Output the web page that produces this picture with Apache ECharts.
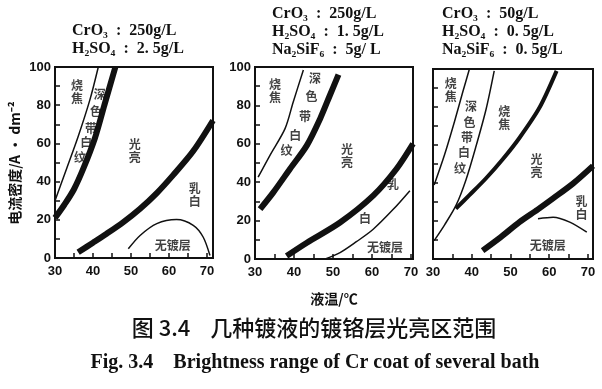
<!DOCTYPE html>
<html><head><meta charset="utf-8">
<script src="https://cdn.jsdelivr.net/npm/echarts@6/dist/echarts.min.js"></script>
<style>html,body{margin:0;padding:0;background:#fff}#c{width:602px;height:389px}</style>
</head><body><div id="c"></div>
<script>
// ---- tick labels ----
const xTicks = [30, 40, 50, 60, 70];
const yTicks = [0, 20, 40, 60, 80, 100];

// ---- panel headers ----
const p1Header = ['CrO₃  :  250g/L', 'H₂SO₄  :  2. 5g/L'];
const p2Header = ['CrO₃  :  250g/L', 'H₂SO₄  :  1. 5g/L', 'Na₂SiF₆  :  5g/ L'];
const p3Header = ['CrO₃  :  50g/L', 'H₂SO₄  :  0. 5g/L', 'Na₂SiF₆  :  0. 5g/L'];

// ---- panel 1 curves [T(°C), J(A/dm²)] ----
const p1BurnEdge = [[30, 30], [33.1, 47], [36.1, 63.6], [39.2, 82.9], [41.4, 100]];
const p1Band = [[30, 21], [32.5, 28], [35, 36], [37.5, 47], [40.5, 62.7], [43, 80], [45.9, 100]];
const p1Bright = [[36.1, 3], [40, 8], [43.6, 12.7], [48, 18.8], [52.4, 25.8], [56.8, 34], [61.1, 43.4], [66.4, 56], [71.6, 72]];
const p1Dome = [[49.3, 4.8], [52.4, 11.8], [56.8, 18], [62, 20.1], [66.4, 17.1], [69, 11], [70.8, 1.3]];

// ---- panel 2 curves ----
const p2BurnEdge = [[30.8, 42.6], [33.8, 53.9], [37.7, 67.9], [39.8, 81.8], [42.4, 98.4]];
const p2Band = [[31.3, 26], [34.7, 34.7], [39, 47], [43.3, 59.2], [46.7, 73.1], [49.2, 85.3], [51.4, 96]];
const p2Bright = [[38.1, 1.6], [43.3, 8.5], [51.8, 19], [60.3, 33], [66.3, 47], [70.5, 60]];
const p2Lower = [[48, 0], [51.8, 3.3], [56, 9], [60.3, 15.5], [65.5, 26], [69.7, 35.6]];

// ---- panel 3 curves ----
const p3Edge1 = [[30.3, 39], [33, 55], [35.5, 72], [37.7, 88], [39.4, 100]];
const p3Edge2 = [[30.3, 9.7], [33, 18], [36, 28.5], [38.5, 41.6], [41.1, 59.3], [43.7, 78.8], [45.8, 99]];
const p3Burn = [[35.9, 26.5], [39.4, 33.6], [43.7, 42.5], [48, 52.5], [52.3, 63.7], [57.5, 79.7], [61.9, 99]];
const p3Bright = [[42.8, 4.4], [47.5, 11.5], [52.3, 19.4], [57, 26], [61, 31.9], [66.2, 39.8], [71.3, 49]];
const p3Dome = [[57.1, 21.2], [61, 22], [65.3, 19.4], [69.7, 14.1]];

// ---- region labels [text, T, J] ----
const p1Labels = [['烧\n焦', 35.8, 87], ['光\n亮', 51, 56], ['乳\n白', 66.8, 33], ['无镀层', 61, 6.5],
  ['深', 41.8, 85.5], ['色', 40.8, 76.6], ['带', 39.5, 68], ['白', 38.2, 60.3], ['纹', 36.6, 52.4]];
const p2Labels = [['烧\n焦', 35.1, 87.3], ['光\n亮', 53.6, 53.5], ['乳', 65.4, 39], ['白', 58.2, 21], ['无镀层', 63.3, 5.8],
  ['深', 45.4, 94.2], ['色', 44.5, 84.5], ['带', 42.8, 74], ['白', 40.3, 64.4], ['纹', 38.1, 56.5]];
const p3Labels = [['烧\n焦', 34.6, 88.8], ['烧\n焦', 48.4, 74.5], ['光\n亮', 56.7, 49], ['乳\n白', 68.3, 27], ['无镀层', 59.6, 7],
  ['深', 39.8, 80.3], ['色', 39.4, 71.8], ['带', 38.8, 63.8], ['白', 38, 55.9], ['纹', 37, 47.9]];

const yName = '电流密度/A · dm⁻²';
const xName = '液温/℃';
const captionCN = '图 3.4    几种镀液的镀铬层光亮区范围';
const captionEN = 'Fig. 3.4    Brightness range of Cr coat of several bath';

const INK = '#111';
const grids = [
  {left: 55, top: 67, width: 158, height: 191},
  {left: 255, top: 67, width: 158, height: 192},
  {left: 433, top: 69, width: 160, height: 190}
].map(g => Object.assign(g, {show: true, borderColor: INK, borderWidth: 2, backgroundColor: 'transparent'}));

function xAx(gi, max) {
  return {type: 'value', gridIndex: gi, min: 30, max: max, interval: 10,
    axisLine: {show: true, lineStyle: {color: INK, width: 2}},
    axisTick: {show: true, inside: true, length: 5, lineStyle: {color: INK, width: 1.5}},
    minorTick: {show: true, splitNumber: 2, length: 5, lineStyle: {color: INK, width: 1.5}},
    splitLine: {show: false}, minorSplitLine: {show: false},
    axisLabel: {formatter: v => xTicks.includes(v) ? String(v) : '', color: INK, fontWeight: 'bold',
      fontSize: 13, fontFamily: 'Liberation Sans', margin: 7}};
}
function yAx(gi, showLabel) {
  return {type: 'value', gridIndex: gi, min: 0, max: 100, interval: 20,
    axisLine: {show: true, lineStyle: {color: INK, width: 2}},
    axisTick: {show: true, inside: true, length: 5, lineStyle: {color: INK, width: 1.5}},
    minorTick: {show: true, splitNumber: 2, length: 5, lineStyle: {color: INK, width: 1.5}},
    splitLine: {show: false},
    axisLabel: {show: showLabel, formatter: v => yTicks.includes(v) ? String(v) : '', color: INK, fontWeight: 'bold',
      fontSize: 13, fontFamily: 'Liberation Sans', margin: 4}};
}
function ln(gi, data, w) {
  return {type: 'line', xAxisIndex: gi, yAxisIndex: gi, data: data, smooth: 0.3,
    symbol: 'none', silent: true, lineStyle: {color: INK, width: w, cap: 'butt', join: 'round'}, z: 3};
}
function lab(gi, arr) {
  return {type: 'scatter', xAxisIndex: gi, yAxisIndex: gi, symbolSize: 1, silent: true,
    itemStyle: {color: 'rgba(0,0,0,0)'}, z: 5,
    data: arr.map(a => ({value: [a[1], a[2]], name: a[0]})),
    label: {show: true, position: 'inside', formatter: p => p.name, color: INK, fontSize: 12,
      fontWeight: 'bold', fontFamily: 'Noto Sans CJK SC', lineHeight: 13}};
}

const serifHead = 'bold 16px "Liberation Serif", "DejaVu Serif", serif';
const option = {
  animation: false,
  backgroundColor: '#fff',
  grid: grids,
  xAxis: [xAx(0, 71.6), xAx(1, 70.5), xAx(2, 71.3)],
  yAxis: [yAx(0, true), yAx(1, true), yAx(2, false)],
  series: [
    ln(0, p1BurnEdge, 1.5), ln(0, p1Band, 6), ln(0, p1Bright, 6), ln(0, p1Dome, 1.5),
    ln(1, p2BurnEdge, 1.5), ln(1, p2Band, 6), ln(1, p2Bright, 6), ln(1, p2Lower, 1.5),
    ln(2, p3Edge1, 1.5), ln(2, p3Edge2, 1.5), ln(2, p3Burn, 4), ln(2, p3Bright, 6), ln(2, p3Dome, 1.5),
    lab(0, p1Labels), lab(1, p2Labels), lab(2, p3Labels)
  ],
  graphic: [
    {type: 'text', left: 72, top: 22, style: {text: p1Header.join('\n'), font: serifHead, lineHeight: 18, fill: INK}},
    {type: 'text', left: 272, top: 5, style: {text: p2Header.join('\n'), font: serifHead, lineHeight: 18, fill: INK}},
    {type: 'text', left: 442, top: 5, style: {text: p3Header.join('\n'), font: serifHead, lineHeight: 18, fill: INK}},
    {type: 'text', x: 15, y: 163, rotation: Math.PI / 2,
      style: {text: yName, align: 'center', verticalAlign: 'middle', font: 'bold 14px "Noto Sans CJK SC"', fill: INK}},
    {type: 'text', x: 334, y: 299,
      style: {text: xName, align: 'center', verticalAlign: 'middle', font: 'bold 14px "Noto Sans CJK SC"', fill: INK}},
    {type: 'text', x: 314, y: 328,
      style: {text: captionCN, align: 'center', verticalAlign: 'middle', font: '500 22px "Noto Sans CJK SC"', fill: INK}},
    {type: 'text', x: 315, y: 363,
      style: {text: captionEN, align: 'center', verticalAlign: 'middle', font: 'bold 20px "Liberation Serif"', fill: INK}}
  ]
};
echarts.init(document.getElementById('c'), null, {renderer: 'canvas'}).setOption(option);
</script>
</body></html>
